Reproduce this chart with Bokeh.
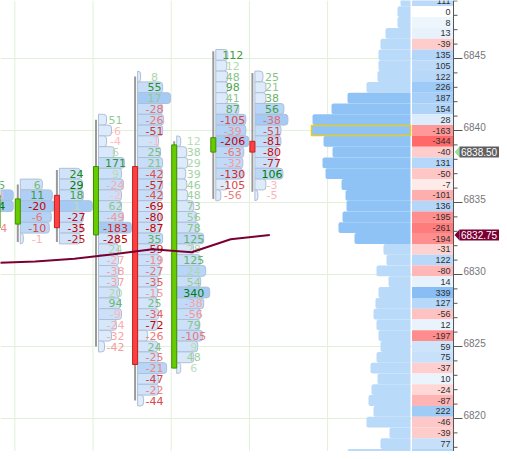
import math
from bokeh.plotting import figure
from bokeh.models import Range1d, ColumnDataSource
from bokeh.core.properties import value
from bokeh.embed import file_html
from bokeh.resources import INLINE

# ---------------- data ----------------
ROW = 0.75  # price height of one footprint / profile row

# candles (bar index 0..7)
opens  = [6833.25, 6833.5, 6835.5, 6832.75, 6837.5, 6823.5, 6838.5, 6839.25]
closes = [6835.5, 6835.25, 6833.25, 6837.5, 6823.75, 6839.0, 6839.5, 6838.5]
highs  = [6836.25, 6836.25, 6837.25, 6840.75, 6843.75, 6839.25, 6845.5, 6844.0]
lows   = [6832.5, 6832.25, 6832.25, 6825.0, 6821.25, 6823.5, 6835.25, 6835.75]
vwap   = [6830.8, 6830.9, 6831.1, 6831.4, 6831.75, 6831.55, 6832.45, 6832.75]

# footprint: top price of each bar and delta / volume of each row (top to bottom)
fp_top = [6836.25, 6836.25, 6837.0, 6840.75, 6843.75, 6839.25, 6845.25, 6843.75]
fp_delta0 = [25, -3, 64, 7, -14]
fp_vol0   = [14, 32, 32, 16, 12]
fp_delta1 = [6, 11, -20, -6, -10, -1]
fp_vol1   = [22, 32, 34, 31, 29, 3]
fp_delta2 = [24, 29, 18, 1, -27, -35, -25]
fp_vol2   = [21, 23, 24, 33, 24, 23, 21]
fp_delta3 = [51, -6, -4, 6, 171, 9, -24, -2, 62, -49, -183, -285, 24, -27, -38, -37, 20, 94, -9, -24, -32, -42]
fp_vol3   = [8, 13, 8, 16, 26, 23, 25, 23, 23, 25, 33, 20, 20, 20, 20, 20, 21, 22, 23, 18, 13, 6]
fp_delta4 = [8, 55, 17, -28, -26, -51, -1, 25, 21, -42, -57, -42, -69, -80, -87, 35, -59, -19, -27, -35,
             -15, 25, -34, -72, -26, 24, -25, -21, -47, -22, -44]
fp_vol4   = [3, 25, 33, 25, 26, 25, 21, 23, 25, 25, 25, 25, 21, 23, 23, 25, 21, 23, 23, 21,
             20, 20, 21, 20, 10, 20, 21, 29, 21, 21, 6]
fp_delta5 = [12, 38, 29, 39, 46, 48, 73, 56, 78, 125, 28, 125, 24, 54, 340, -38, -56, 79, -105, 9, 48, 6]
fp_vol5   = [4, 10, 11, 9, 10, 11, 17, 20, 22, 27, 17, 24, 29, 24, 33, 27, 24, 23, 26, 21, 17, 4]
fp_delta6 = [112, 12, 48, 98, 41, 87, -105, -39, -206, -63, -32, -130, -105, -56]
fp_vol6   = [12, 11, 12, 12, 12, 23, 30, 30, 33, 28, 27, 27, 12, 5]
fp_delta7 = [25, 21, 38, 56, -38, -51, -81, -80, -77, 106, -3, -5]
fp_vol7   = [8, 11, 11, 29, 33, 26, 26, 23, 23, 28, 11, 3]

# session volume profile (top to bottom)
prof_top = 6849.0
prof_delta = [111, 0, 8, 13, -39, 135, 105, 122, 226, 187, 154, 28, -163, -344, -40, 131, -50, -7, -101,
              136, -195, -261, -194, -31, 122, -80, 14, 339, 127, -56, 12, -197, 59, 75, -37, 10, -24,
              -87, 222, -46, -39, 77, 136]
prof_vol = [10, 13, 13, 25, 30, 32, 32, 33, 44, 63, 79, 98, 99, 87, 78, 88, 85, 69, 65,
            64, 68, 72, 56, 27, 24, 34, 22, 32, 35, 37, 34, 32, 30, 34, 40, 33, 39,
            42, 37, 44, 21, 30, 63]
va_high, va_low = 6842.25, 6832.5

price_ticks = [6820, 6825, 6830, 6835, 6840, 6845]
price_tick_labels = ["6820", "6825", "6830", "6835", "6840", "6845"]
minor_price_ticks = list(range(6817, 6850))
time_grid_bars = [1, 3, 5, 7, 9]

# ---------------- layout constants ----------------
PX = 1 / 39.1                     # bar units per screen pixel
def rx(xref):                     # screen pixel -> bar units
    return (xref + 21.8) / 39.1
PYU = 1 / 14.4                    # price units per screen pixel
PROF_R = rx(410)
AXIS_X = rx(453)
W, H = 499, 451
Y_TOP = 6840 + 130 * PYU
Y_BOT = 6840 - (H - 130) * PYU

FONT = "DejaVu Sans"

def mix(c0, c1, t):
    t = max(0.0, min(1.0, t))
    return "#%02x%02x%02x" % tuple(int(round(a + (b - a) * t)) for a, b in zip(c0, c1))

def delta_color(d, m):
    t = abs(d) / (0.8 * m)
    if d >= 0:
        return mix((190, 225, 190), (0, 125, 0), t)
    return mix((255, 192, 192), (200, 0, 0), t)

p = figure(width=W, height=H, output_backend="svg", toolbar_location=None,
           x_axis_location=None, y_axis_location=None,
           x_range=Range1d(rx(0), rx(W)), y_range=Range1d(Y_BOT, Y_TOP),
           min_border=0)
p.outline_line_color = None
p.background_fill_color = "white"
p.border_fill_color = "white"
p.grid.visible = False

# grid lines
GRID = "#e2efda"
gx = [b - 3 * PX for b in time_grid_bars]
p.segment(x0=gx, x1=gx, y0=[Y_BOT] * len(gx), y1=[Y_TOP] * len(gx), line_color=GRID, line_width=1)
p.segment(x0=[rx(0)] * len(price_ticks), x1=[AXIS_X] * len(price_ticks), y0=price_ticks, y1=price_ticks,
          line_color=GRID, line_width=1)

# ---------------- volume profile ----------------
pr_price = [prof_top - ROW * i for i in range(len(prof_vol))]
pr_fill = ["#8fc3f5" if va_low <= pr <= va_high else "#badafa" for pr in pr_price]
src_prof = ColumnDataSource(dict(
    left=[PROF_R - v * PX for v in prof_vol], right=[PROF_R] * len(prof_vol),
    top=[pr + ROW / 2 for pr in pr_price], bottom=[pr - ROW / 2 for pr in pr_price], fill=pr_fill))
p.quad(left="left", right="right", top="top", bottom="bottom", fill_color="fill",
       line_color=None, source=src_prof, border_radius=(2, 0, 0, 2))

poc_i = max(range(len(prof_vol)), key=lambda i: prof_vol[i])
p.quad(left=[PROF_R - prof_vol[poc_i] * PX], right=[PROF_R],
       top=[pr_price[poc_i] + ROW / 2 - 0.5 * PYU], bottom=[pr_price[poc_i] - ROW / 2 + 0.5 * PYU],
       fill_color=None, line_color="#e8cc20", line_width=1.5)

mxd = max(abs(d) for d in prof_delta)
def prof_cell_color(d):
    t = math.sqrt(abs(d) / mxd)
    if d >= 0:
        return mix((255, 255, 255), (135, 190, 245), t)
    return mix((255, 255, 255), (255, 105, 105), t)

src_pd = ColumnDataSource(dict(
    left=[rx(411.5)] * len(prof_delta), right=[rx(452.5)] * len(prof_delta),
    top=[pr + ROW / 2 for pr in pr_price], bottom=[pr - ROW / 2 for pr in pr_price],
    fill=[prof_cell_color(d) for d in prof_delta],
    x=[rx(450)] * len(prof_delta), y=pr_price, txt=[str(d) for d in prof_delta]))
p.quad(left="left", right="right", top="top", bottom="bottom", fill_color="fill",
       line_color=None, source=src_pd)
p.text(x="x", y="y", text="txt", source=src_pd, text_align="right", text_baseline="middle",
       text_font=value("Liberation Sans"), text_font_size="9px", text_color="#303030")

# ---------------- footprint ----------------
fp_deltas = [fp_delta0, fp_delta1, fp_delta2, fp_delta3, fp_delta4, fp_delta5, fp_delta6, fp_delta7]
fp_vols = [fp_vol0, fp_vol1, fp_vol2, fp_vol3, fp_vol4, fp_vol5, fp_vol6, fp_vol7]

cl, cr, ct, cb, cf, tx, ty, tt, tc = [], [], [], [], [], [], [], [], []
for b, (top, ds, vs) in enumerate(zip(fp_top, fp_deltas, fp_vols)):
    mv = max(vs)
    md = max(abs(d) for d in ds)
    for i, (d, v) in enumerate(zip(ds, vs)):
        pr = top - ROW * i
        left = b + 2.5 * PX
        cl.append(left)
        cr.append(left + v * PX)
        ct.append(pr + ROW / 2)
        cb.append(pr - ROW / 2)
        cf.append(mix((224, 236, 251), (165, 203, 245), (v / mv) ** 3))
        tx.append(b + 19.5 * PX)
        ty.append(pr)
        tt.append(str(d))
        tc.append(delta_color(d, md))

src_cells = ColumnDataSource(dict(left=cl, right=cr, top=ct, bottom=cb, fill=cf))
p.quad(left="left", right="right", top="top", bottom="bottom", fill_color="fill",
       line_color="#aebfd8", line_width=1, source=src_cells, border_radius=(0, 3, 3, 0))

bars = list(range(len(opens)))
p.segment(x0=bars, x1=bars, y0=lows, y1=highs, line_color="#9a9a9a", line_width=2)
up = [c >= o for o, c in zip(opens, closes)]
p.vbar(x=bars, width=5 * PX, top=[max(o, c) for o, c in zip(opens, closes)],
       bottom=[min(o, c) for o, c in zip(opens, closes)],
       fill_color=["#66cc00" if u else "#ff4040" for u in up],
       line_color=["#3f8f00" if u else "#c02020" for u in up], line_width=1)

src_txt = ColumnDataSource(dict(x=tx, y=ty, txt=tt, col=tc))
p.text(x="x", y="y", text="txt", text_color="col", source=src_txt, text_align="center",
       text_baseline="middle", text_font=value(FONT), text_font_size="11px")

# vwap
p.line(x=[b + 17.4 * PX for b in bars], y=vwap, line_color="#7a0034", line_width=2)

# ---------------- price axis (right) ----------------
p.segment(x0=[AXIS_X], x1=[AXIS_X], y0=[Y_BOT], y1=[Y_TOP], line_color="#555555", line_width=1)
p.segment(x0=[AXIS_X] * len(minor_price_ticks), x1=[rx(457)] * len(minor_price_ticks),
          y0=minor_price_ticks, y1=minor_price_ticks, line_color="#555555", line_width=1)
p.segment(x0=[AXIS_X] * len(price_ticks), x1=[rx(462)] * len(price_ticks),
          y0=price_ticks, y1=price_ticks, line_color="#555555", line_width=1)
p.text(x=[rx(463)] * len(price_ticks), y=[t + 3.5 * PYU for t in price_ticks], text=price_tick_labels,
       text_align="left", text_baseline="middle", text_font=value("Liberation Sans"),
       text_font_size="10px", text_color="#767676")

# current price / vwap markers
def marker(price, box_color, arrow_color):
    h = 5.5 * PYU
    p.patch(x=[rx(454), rx(459), rx(459)], y=[price, price + h, price - h],
            fill_color=arrow_color, line_color=None)
    p.quad(left=[rx(459)], right=[rx(W)], top=[price + h], bottom=[price - h],
           fill_color=box_color, line_color=None)
    p.text(x=[rx(460.5)], y=[price], text=["%.2f" % price], text_color="white",
           text_font=value("Liberation Sans"), text_font_size="10px",
           text_baseline="middle", text_align="left")

marker(closes[-1], "#5f5f5f", "#9be09b")
marker(vwap[-1], "#7a0034", "#7a0034")

open("out.html", "w").write(file_html(p, INLINE))
